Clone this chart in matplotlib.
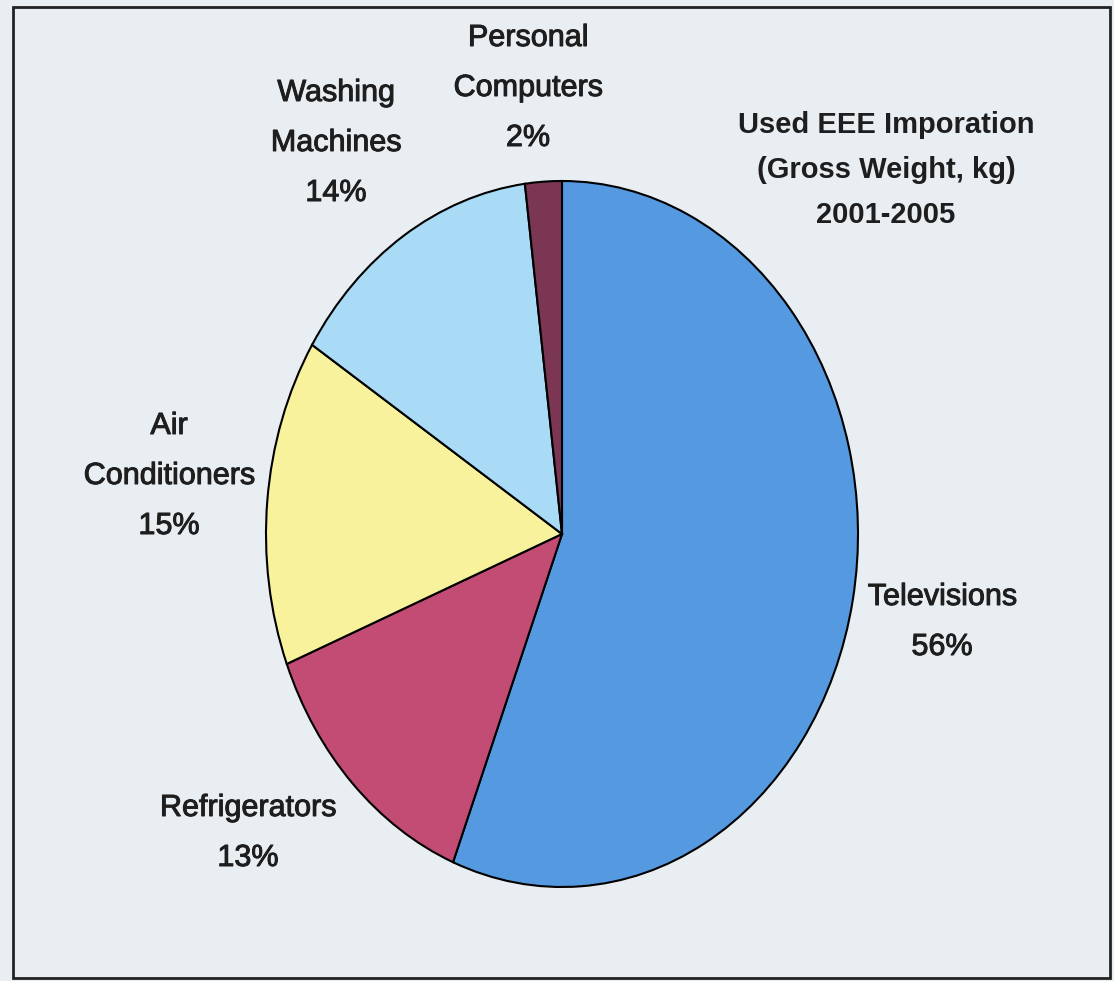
import matplotlib.pyplot as plt
import matplotlib.patheffects as pe
from matplotlib.patches import Rectangle

# data
categories = ['Televisions', 'Refrigerators', 'Air\nConditioners',
              'Washing\nMachines', 'Personal\nComputers']
shares = [56, 13, 15, 14, 2]
colors = ['#5599E0', '#C24C74', '#F8F29C', '#A9DBF6', '#7A3652']
title_lines = ['Used EEE Imporation', '(Gross Weight, kg)', '2001-2005']

# label centres in pixels (x, y from top)
label_pos = [(942, 622), (248, 833), (169, 476), (336, 143), (528, 88)]

W, H = 1114, 981
bg = '#E8EEF2'
plt.rcParams['font.family'] = ['Liberation Sans', 'DejaVu Sans']

fig = plt.figure(figsize=(W / 100, H / 100), dpi=100, facecolor=bg)

# pie is drawn as an ellipse, so axes box is not square
cx, cy, rx, ry = 562, 534, 296, 353
ax = fig.add_axes([(cx - rx) / W, 1 - (cy + ry) / H, 2 * rx / W, 2 * ry / H])
ax.pie(shares, colors=colors, startangle=90, counterclock=False,
       wedgeprops=dict(edgecolor='black', linewidth=1.5))
ax.set_aspect('auto')
ax.set_xlim(-1.0, 1.0)
ax.set_ylim(-1.0, 1.0)
ax.axis('off')

# labels (slight stroke to get the heavier look of the original)
heavy = [pe.withStroke(linewidth=0.7, foreground='#1E1E1E')]
for name, val, (px, py) in zip(categories, shares, label_pos):
    fig.text(px / W, 1 - py / H, f'{name}\n{val}%', ha='center', va='center',
             fontsize=22, color='#1E1E1E', linespacing=1.87,
             path_effects=heavy)

fig.text(886 / W, 1 - 170 / H, '\n'.join(title_lines), ha='center',
         va='center', fontsize=21, color='#1E1E1E', linespacing=1.77,
         fontweight='bold')

# frame
fig.patches.append(Rectangle((13 / W, 1 - 978 / H), 1097 / W, 971 / H,
                             transform=fig.transFigure, fill=False,
                             edgecolor='#222222', linewidth=2))

fig.savefig('out.png', dpi=100, facecolor=bg)
